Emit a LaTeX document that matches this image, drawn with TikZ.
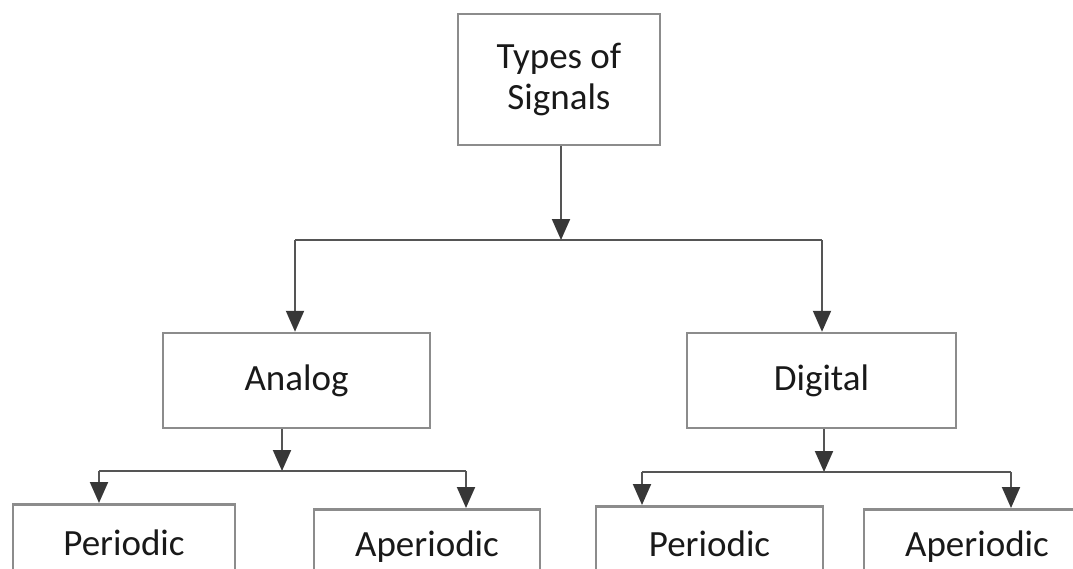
\documentclass[tikz,border=0pt]{standalone}
\usepackage{fontspec}
\setmainfont{Carlito}
\usetikzlibrary{arrows.meta}
\definecolor{boxgray}{RGB}{140,140,140}
\definecolor{lngray}{RGB}{85,85,85}
\definecolor{tipgray}{RGB}{55,55,55}
\definecolor{txt}{RGB}{25,25,25}
\begin{document}
\begin{tikzpicture}[x=1pt,y=-1pt,
  box/.style={draw=boxgray, line width=2.5pt, fill=white, inner sep=0pt,
    font=\fontsize{37}{43}\selectfont, text=txt, align=center},
  conn/.style={draw=lngray, line width=2pt},
  arr/.style={conn, -{Triangle[width=18pt,length=21pt,color=tipgray]}}]
\useasboundingbox (0,0) rectangle (1073,568);
\clip (0,0) rectangle (1073,568);
% nodes
\node[box, minimum width=202pt, minimum height=131pt] (top) at (559,79.5) {Types of\\[-2pt]Signals};
\node[box, minimum width=267pt, minimum height=95pt] (analog) at (296.5,380.5) {Analog};
\node[box, minimum width=269pt, minimum height=95pt] (digital) at (821.5,380.5) {Digital};
\node[box, anchor=north, minimum width=222pt, minimum height=78pt] (perL) at (124,503) {Periodic};
\node[box, anchor=north, minimum width=226pt, minimum height=74pt] (aperL) at (427,508) {Aperiodic};
\node[box, anchor=north, minimum width=227pt, minimum height=76pt] (perR) at (709.5,505) {Periodic};
\node[box, anchor=north, minimum width=226pt, minimum height=74pt] (aperR) at (977,508) {Aperiodic};
% junction coordinates
\coordinate (j1) at (561,240);
\coordinate (j1L) at (295,240);
\coordinate (j1R) at (822,240);
\coordinate (j2) at (282,471);
\coordinate (j2L) at (99,471);
\coordinate (j2R) at (466,471);
\coordinate (j3) at (824,472);
\coordinate (j3L) at (642,472);
\coordinate (j3R) at (1011,472);
% connectors
\draw[arr] (j1 |- top.south) -- (j1);
\draw[conn] (j1L) -- (j1R);
\draw[arr] (j1L) -- (j1L |- analog.north);
\draw[arr] (j1R) -- (j1R |- digital.north);
\draw[arr] (j2 |- analog.south) -- (j2);
\draw[conn] (j2L) -- (j2R);
\draw[arr] (j2L) -- (j2L |- perL.north);
\draw[arr] (j2R) -- (j2R |- aperL.north);
\draw[arr] (j3 |- digital.south) -- (j3);
\draw[conn] (j3L) -- (j3R);
\draw[arr] (j3L) -- (j3L |- perR.north);
\draw[arr] (j3R) -- (j3R |- aperR.north);
\end{tikzpicture}
\end{document}
